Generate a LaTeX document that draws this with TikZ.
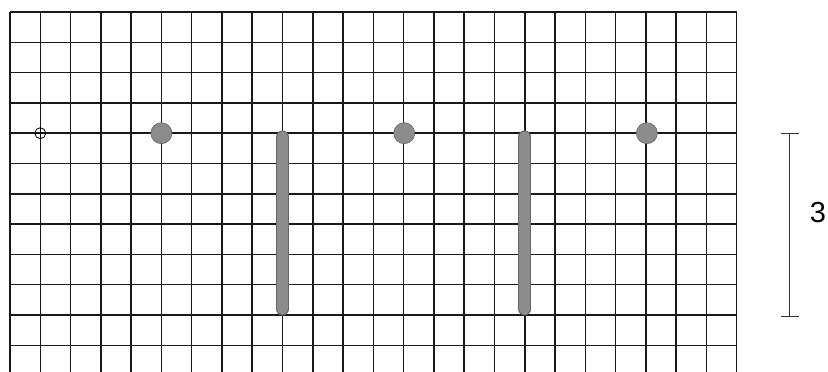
\documentclass[tikz,border=0pt]{standalone}
\usepackage{fontspec}
\setmainfont{Liberation Sans}
\begin{document}
\begin{tikzpicture}[x=1pt,y=-1pt,
  gridline/.style={black!90,line width=1.5pt},
  dotmark/.style={circle,fill=gray!90,draw=gray!80!black,line width=0.6pt,minimum size=21pt,inner sep=0pt},
  openmark/.style={circle,draw=black,line width=0.8pt,minimum size=11pt,inner sep=0pt},
  barmark/.style={line width=11pt,line cap=round,draw=gray!90},
  barrim/.style={line width=13pt,line cap=round,draw=gray!80!black},
  scaleline/.style={draw=black!80,line width=0.9pt},
  scalelabel/.style={font=\fontsize{29}{29}\selectfont,inner sep=0pt}]
\useasboundingbox (0,0) rectangle (828,372);
\begin{scope}
\clip (0,0) rectangle (828,372);
\foreach \i in {0,...,24} {
  \draw[gridline] ({10+\i*30.28},12) -- ({10+\i*30.28},380);
}
\foreach \j in {0,...,11} {
  \draw[gridline] (10,{12+\j*30.3}) -- (736.7,{12+\j*30.3});
}
\end{scope}
% markers
\node[openmark] (o1) at (40.3,133.2) {};
\draw[black,line width=0.8pt] (o1.west) -- (o1.east) (o1.north) -- (o1.south);
\node[dotmark] (d1) at (161.4,133.2) {};
\node[dotmark] (d2) at (404.2,133.2) {};
\node[dotmark] (d3) at (646.9,133.2) {};
% bars
\coordinate (b1t) at (282.5,137);
\coordinate (b1b) at (282.5,309);
\coordinate (b2t) at (524.8,137);
\coordinate (b2b) at (524.8,309);
\draw[barrim] (b1t) -- (b1b);
\draw[barmark] (b1t) -- (b1b);
\draw[barrim] (b2t) -- (b2b);
\draw[barmark] (b2t) -- (b2b);
% scale bar
\coordinate (st) at (789.5,133.5);
\coordinate (sb) at (789.5,316);
\draw[scaleline] (st) -- (sb);
\draw[scaleline] ([xshift=-9pt]st) -- ([xshift=9pt]st);
\draw[scaleline] ([xshift=-9pt]sb) -- ([xshift=9pt]sb);
\node[scalelabel] (lab) at (818,213) {3};
\end{tikzpicture}
\end{document}
